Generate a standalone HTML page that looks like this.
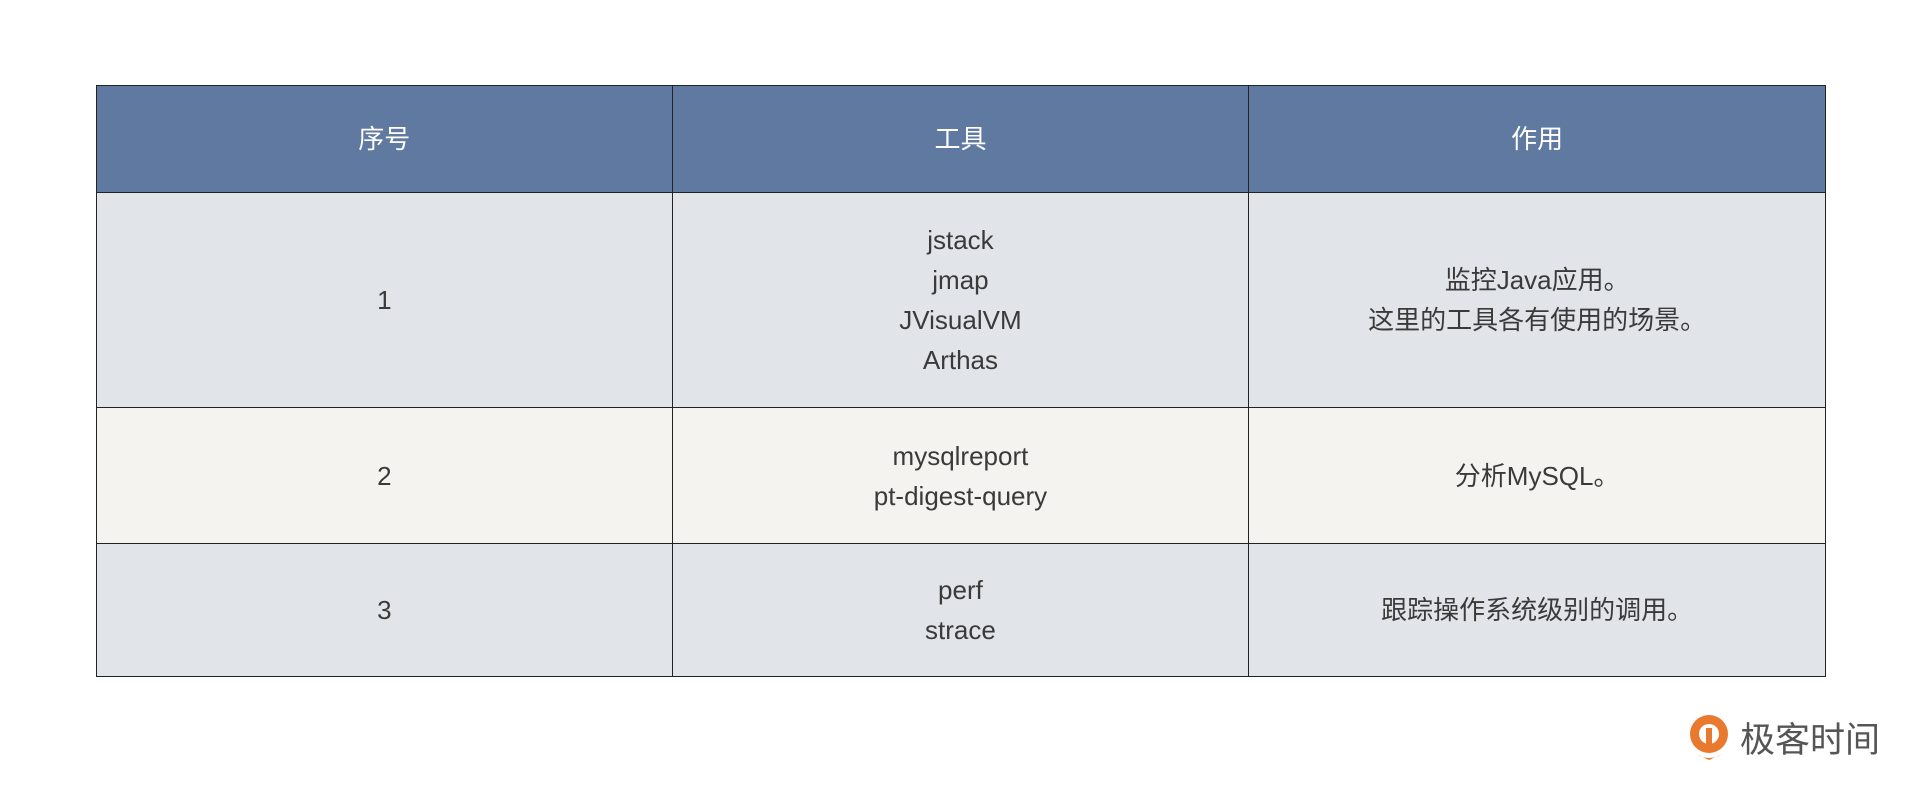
<!DOCTYPE html>
<html><head><meta charset="utf-8"><style>
html,body{margin:0;padding:0;background:#fff;}
body{width:1920px;height:791px;position:relative;overflow:hidden;font-family:"Liberation Sans","Noto Sans CJK SC",sans-serif;}
table{position:absolute;left:96px;top:85px;border-collapse:collapse;width:1730px;}
td{border:1.5px solid #222;text-align:center;vertical-align:middle;color:#3a3a3a;font-size:26px;line-height:40px;padding:0;}
tr.h td{background:#5f79a0;color:#fff;height:106px;}
tr.r1 td{background:#e1e5e9;height:214px;}
tr.r2 td{background:#f4f3ef;height:135px;}
tr.r3 td{background:#e1e5e9;height:132px;}
.logo{position:absolute;left:1688px;top:712px;display:flex;align-items:center;}
.logo span{font-size:35px;color:#555;font-weight:normal;margin-left:10px;letter-spacing:0px;}
</style></head><body>
<table>
<colgroup><col style="width:576px"><col style="width:577px"><col style="width:577px"></colgroup>
<tr class="h"><td>序号</td><td>工具</td><td>作用</td></tr>
<tr class="r1"><td>1</td><td>jstack<br>jmap<br>JVisualVM<br>Arthas</td><td>监控Java应用。<br>这里的工具各有使用的场景。</td></tr>
<tr class="r2"><td>2</td><td>mysqlreport<br>pt-digest-query</td><td>分析MySQL。</td></tr>
<tr class="r3"><td>3</td><td>perf<br>strace</td><td>跟踪操作系统级别的调用。</td></tr>
</table>
<div class="logo">
<svg width="42" height="48" viewBox="0 0 42 48"><circle cx="21" cy="20" r="19" fill="#e8792f"/><circle cx="21" cy="20" r="10" fill="#fff"/><path d="M18 14 L24 14 L24 34 L18 34Z" fill="#e8792f"/><path d="M8 40 Q21 48 34 40 L21 46Z" fill="#e8792f"/></svg>
<span>极客时间</span>
</div>
</body></html>
